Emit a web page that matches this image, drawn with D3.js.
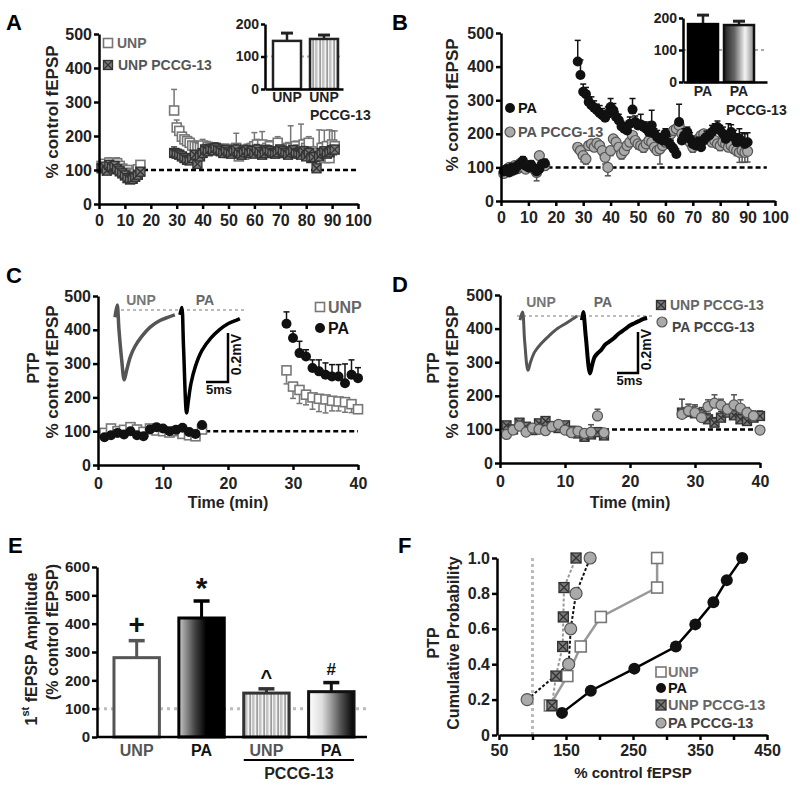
<!DOCTYPE html>
<html>
<head>
<meta charset="utf-8">
<script src="https://cdn.jsdelivr.net/npm/d3@7/dist/d3.min.js"></script>
<style>
html,body{margin:0;padding:0;background:#fff;}
svg{display:block;}
</style>
</head>
<body>
<svg id="fig" width="800" height="785"></svg>
<script>
const FONT = '"Liberation Sans", Arial, Helvetica, sans-serif';

// ================= DATA =================
// Panel A (time in min)
const aBaseStart = 1, aPostStart = 29;
const aUNPbase     = [112,118,108,122,115,110,120,112,104,96,100,92,88,90,102,115];
const aUNPbaseErr  = [10,12,10,14,10,12,16,10,10,8,10,8,8,10,10,12];
const aPCCGbase    = [105,110,98,115,108,112,102,96,90,84,76,72,74,80,86,95];
const aPCCGbaseErr = [10,10,12,10,12,10,10,12,10,10,8,8,8,10,10,12];
const aUNPpost = [275,225,215,198,190,185,180,172,170,168,
                  165,172,160,168,162,165,158,163,160,155,
                  162,150,158,152,165,140,152,145,160,155,
                  165,170,175,160,175,158,165,170,155,150,
                  180,160,155,150,165,165,160,170,160,160,
                  175,165,180,155,150,145,140,165,135,170,
                  135,175,170];
const aUNPerr  = [62,22,16,15,14,15,14,16,15,14,
                  15,18,14,16,14,15,13,15,14,16,
                  14,15,14,15,43,14,15,14,16,15,
                  14,40,15,14,38,14,15,16,14,15,
                  18,15,14,15,16,65,14,15,16,75,
                  15,14,18,15,14,16,78,15,82,14,
                  83,40,45];
const aPCCGpost = [150,148,145,140,135,130,128,135,145,118,
                   140,150,160,155,162,158,165,160,155,150,
                   158,152,148,155,160,150,145,152,158,150,
                   155,148,160,152,145,150,158,155,150,148,
                   152,160,155,150,145,152,158,150,148,145,
                   155,140,150,135,138,105,140,150,155,148,
                   152,158,160];
const aPCCGerr  = [18,15,14,12,14,12,15,14,12,20,
                   14,12,15,12,14,12,15,12,14,12,
                   15,12,14,12,15,12,14,12,15,12,
                   14,12,15,12,14,12,15,12,14,12,
                   15,12,14,12,15,12,14,12,15,12,
                   14,12,15,12,14,20,12,14,12,15,
                   12,14,12];
const aInsetCats = ['UNP', 'UNP PCCG-13'];
const aInsetVals = [148, 154];
const aInsetErr  = [24, 12];

// Panel B
const bBaseStart = 1, bPostStart = 28;
const bPAbase      = [88,95,85,100,92,105,110,120,105,100,108,98,88,95,110,112];
const bPAbaseErr   = [10,10,12,10,12,10,10,12,10,10,12,10,12,10,10,12];
const bPCCGbase    = [82,92,100,90,105,96,112,100,95,105,100,95,85,135,108,105];
const bPCCGbaseErr = [10,10,12,10,12,10,10,12,10,10,12,10,25,12,10,12];
const bPApost = [415,375,325,318,295,285,278,270,262,255,
                 248,260,280,270,250,240,222,215,210,230,
                 272,235,225,228,220,215,205,225,200,190,
                 185,180,200,175,165,155,140,235,180,195,
                 205,185,170,165,175,160,180,190,195,205,
                 215,220,210,200,185,195,205,190,175,185,
                 178,170,175];
const bPAerr  = [63,45,23,20,15,25,20,18,22,20,
                 15,20,25,20,15,18,15,18,15,20,
                 33,18,15,30,15,20,15,45,15,20,
                 15,18,15,18,15,12,15,53,15,20,
                 15,18,15,18,15,12,15,18,15,20,
                 15,18,15,20,18,35,22,20,25,30,
                 25,30,28];
const bPCCGpost = [160,150,135,125,165,170,160,172,165,150,
                   130,100,150,185,175,160,140,150,165,175,
                   195,180,170,165,160,170,180,175,160,150,
                   155,165,175,190,200,210,215,225,200,195,
                   185,175,160,170,185,195,200,190,185,175,
                   180,170,165,175,170,160,165,155,150,145,
                   150,145,148];
const bPCCGerr  = [15,15,18,15,12,15,12,15,12,15,
                   20,25,15,12,15,12,15,12,15,12,
                   15,12,15,12,15,12,15,12,15,12,
                   45,12,15,12,15,12,15,12,15,12,
                   15,12,15,12,15,12,15,12,15,12,
                   15,12,15,12,15,12,15,12,15,30,
                   35,30,32];
const bInsetCats = ['PA', 'PA PCCG-13'];
const bInsetVals = [181, 178];
const bInsetErr  = [28, 12];

// Panel C
const cBaseStart = 1, cPostStart = 29;
const cUNPbase    = [95,108,100,104,112,105,98,108,102,100,96,100,92,88,85,105];
const cUNPbaseErr = [8,8,10,8,8,10,8,8,10,8,8,10,8,8,10,8];
const cPAbase     = [82,88,95,90,100,88,85,105,112,108,100,104,110,98,92,118];
const cPAbaseErr  = [8,10,8,8,10,8,8,10,8,8,10,8,8,10,8,8];
const cPApost  = [418,376,331,321,287,277,267,262,262,242,267,257];
const cPAerr   = [35,20,35,20,24,34,35,35,35,57,44,31];
const cUNPpost = [280,232,222,208,200,196,194,190,188,186,180,165];
const cUNPerr  = [40,35,40,30,35,38,40,30,28,30,25,12];
// EPSP traces: [ms, mV]
const cTraceUNP = [[0,-0.03],[0.5,0.02],[0.9,-0.08],[1.5,-0.2],[2.1,-0.285],[2.6,-0.25],[3.5,-0.19],[4.5,-0.15],[6,-0.11],[8,-0.07],[10,-0.045],[12,-0.03],[13.6,-0.02]];
const cTracePA  = [[0,-0.02],[0.4,0.01],[0.8,-0.15],[1.5,-0.42],[1.9,-0.37],[2.5,-0.3],[3.5,-0.23],[5,-0.165],[7,-0.115],[9,-0.08],[11,-0.055],[13,-0.04],[13.6,-0.035]];

// Panel D
const dBaseStart = 1, dPostStart = 28;
const dUNPPbase    = [112,100,120,108,98,118,125,110,104,112,96,88,78,85,92,82];
const dUNPPbaseErr = [10,12,10,10,12,10,10,12,10,10,8,10,8,10,10,8];
const dPAPbase     = [85,98,110,92,104,100,96,108,115,98,90,95,88,92,140,90];
const dPAPbaseErr  = [8,10,8,10,8,10,8,10,8,10,8,10,8,22,20,8];
const dUNPPpost = [150,152,148,145,130,120,135,150,142,130,125,135,140];
const dUNPPerr  = [40,22,25,20,18,15,18,20,15,15,18,15,15];
const dPAPpost  = [145,155,150,135,168,178,172,160,173,163,150,140,98];
const dPAPerr   = [15,20,18,15,20,25,18,15,30,25,15,15,8];
const dTraceUNP = [[0,-0.02],[0.6,0.02],[1.1,-0.12],[1.9,-0.265],[2.5,-0.225],[3.5,-0.175],[5,-0.135],[7,-0.095],[9,-0.06],[11,-0.035],[12.5,-0.015],[13.6,0]];
const dTracePA  = [[0,-0.02],[0.3,0.02],[0.9,-0.1],[1.9,-0.28],[2.4,-0.24],[3,-0.2],[3.8,-0.18],[4.6,-0.165],[5.5,-0.14],[6.5,-0.125],[7.5,-0.11],[8.5,-0.09],[9.5,-0.075],[10.5,-0.06],[11.5,-0.045],[12.5,-0.035],[13.5,-0.025],[14.5,-0.015],[15.5,-0.01]];

// Panel E
const eCats   = ['UNP', 'PA', 'UNP PCCG-13', 'PA PCCG-13'];
const eLabels = ['UNP', 'PA', 'UNP', 'PA'];
const eVals   = [280, 420, 155, 160];
const eErr    = [60, 60, 15, 32];
const eMarks  = ['+', '*', '^', '#'];
const eTicks  = [0,100,200,300,400,500,600];

// Panel F (x = % control fEPSP, y = cumulative probability)
const fUNPx  = [126,152,172,202,286,286];
const fUNPy  = [0.167,0.333,0.5,0.667,0.833,1.0];
const fPAx   = [144,187,252,314,343,370,390,413];
const fPAy   = [0.125,0.25,0.375,0.5,0.625,0.75,0.875,1.0];
const fUNPPx = [129,135,145,146,147,165];
const fUNPPy = [0.167,0.333,0.5,0.667,0.833,1.0];
const fPAPx  = [92,154,157,165,186];
const fPAPy  = [0.2,0.4,0.6,0.8,1.0];
const fXticks = [50,100,150,200,250,300,350,400,450];
const fXlabels = [50,150,250,350,450];
const fYticks = [0,0.2,0.4,0.6,0.8,1.0];

const tXticks100 = [0,10,20,30,40,50,60,70,80,90,100];
const tXticks40  = [0,10,20,30,40];
const yTicks500  = [0,100,200,300,400,500];
const insetTicks = [0,100,200];

// ================= DRAWING =================
const svg = d3.select('#fig').attr('font-family', FONT);
const defs = svg.append('defs');

function grad(id, stops) {
  const g = defs.append('linearGradient').attr('id', id).attr('x1','0').attr('x2','1').attr('y1','0').attr('y2','0');
  stops.forEach(s => g.append('stop').attr('offset', s[0]).attr('stop-color', s[1]));
}
grad('gPA',  [[0,'#c8c8c8'],[0.35,'#444'],[0.6,'#000'],[1,'#000']]);
grad('gPAP', [[0,'#ffffff'],[0.3,'#dddddd'],[0.7,'#555'],[1,'#000']]);
grad('gInsB',[[0,'#222'],[0.35,'#666'],[0.7,'#f4f4f4'],[1,'#888']]);
const pat = defs.append('pattern').attr('id','stripes').attr('patternUnits','userSpaceOnUse').attr('width',7).attr('height',10);
pat.append('rect').attr('width',7).attr('height',10).attr('fill','#f2f2f2');
pat.append('rect').attr('x',0).attr('width',2.5).attr('height',10).attr('fill','#c4c4c4');
pat.append('rect').attr('x',4.5).attr('width',1.2).attr('height',10).attr('fill','#777');

function styleAx(sel, fs, color) {
  sel.attr('font-family', FONT).attr('font-size', fs).attr('font-weight', 'bold');
  sel.select('.domain').attr('stroke', '#000').attr('stroke-width', 2.5);
  sel.selectAll('.tick line').attr('stroke', '#000').attr('stroke-width', 2.5);
  sel.selectAll('.tick text').attr('fill', color || '#222');
}
function txt(x, y, s, o = {}) {
  const t = svg.append('text').attr('x', x).attr('y', y).text(s)
    .attr('font-size', o.size || 16).attr('font-weight', o.weight || 'bold')
    .attr('fill', o.fill || '#111').attr('text-anchor', o.anchor || 'start')
    .attr('dominant-baseline', 'central');
  if (o.rotate) t.attr('transform', `rotate(-90,${x},${y})`);
  return t;
}
function marker(g, type, x, y, s) {
  if (type === 'sq') {
    g.append('rect').attr('x', x - s/2).attr('y', y - s/2).attr('width', s).attr('height', s)
      .attr('fill', '#fff').attr('stroke', '#777').attr('stroke-width', 1.6);
  } else if (type === 'xsq') {
    g.append('rect').attr('x', x - s/2).attr('y', y - s/2).attr('width', s).attr('height', s)
      .attr('fill', '#7a7a7a').attr('stroke', '#333').attr('stroke-width', 1.3);
    g.append('path').attr('d', `M${x-s/2},${y-s/2}L${x+s/2},${y+s/2}M${x+s/2},${y-s/2}L${x-s/2},${y+s/2}`)
      .attr('stroke', '#333').attr('stroke-width', 1.3);
  } else if (type === 'dot') {
    g.append('circle').attr('cx', x).attr('cy', y).attr('r', s/2).attr('fill', '#111');
  } else if (type === 'gdot') {
    g.append('circle').attr('cx', x).attr('cy', y).attr('r', s/2).attr('fill', '#aaa')
      .attr('stroke', '#555').attr('stroke-width', 1.2);
  }
}
function series(x, y, t0, vals, errs, type, dir, s, ecol) {
  const g = svg.append('g');
  const data = vals.map((v, i) => ({t: t0 + i, v, e: errs[i]}));
  const eg = g.append('g').attr('stroke', ecol).attr('stroke-width', 1.5);
  data.forEach(d => {
    const xx = x(d.t), y1 = y(d.v), y2 = y(d.v + dir * d.e);
    eg.append('line').attr('x1', xx).attr('x2', xx).attr('y1', y1).attr('y2', y2);
    eg.append('line').attr('x1', xx - 3).attr('x2', xx + 3).attr('y1', y2).attr('y2', y2);
  });
  data.forEach(d => marker(g, type, x(d.t), y(d.v), s));
}
function axes(x, y, xt, yt, o) {
  const gx = svg.append('g').attr('transform', `translate(0,${y.range()[0]})`)
    .call(d3.axisBottom(x).tickValues(xt).tickSize(5).tickSizeOuter(0).tickPadding(o.xpad)
      .tickFormat(o.xfmt || d3.format('d')));
  styleAx(gx, o.xfs || 16);
  const gy = svg.append('g').attr('transform', `translate(${x.range()[0]},0)`)
    .call(d3.axisLeft(y).tickValues(yt).tickSize(5).tickSizeOuter(0).tickPadding(2)
      .tickFormat(o.yfmt || d3.format('d')));
  styleAx(gy, o.yfs || 16);
}
function dashed(x, y, t1, t2, v) {
  svg.append('line').attr('x1', x(t1)).attr('x2', x(t2)).attr('y1', y(v)).attr('y2', y(v))
    .attr('stroke', '#000').attr('stroke-width', 2.5).attr('stroke-dasharray', '5,3');
}
function inset(x0, x1, y, cats, vals, errs, centers, w, fills, strokes, fs) {
  const xp = d3.scalePoint().domain(cats).range(centers);
  svg.append('line').attr('x1', x0).attr('x2', x1).attr('y1', y(100)).attr('y2', y(100))
    .attr('stroke', '#aaa').attr('stroke-width', 2).attr('stroke-dasharray', '3,3');
  cats.forEach((c, i) => {
    const cx = xp(c);
    svg.append('line').attr('x1', cx).attr('x2', cx).attr('y1', y(vals[i])).attr('y2', y(vals[i] + errs[i]))
      .attr('stroke', '#222').attr('stroke-width', 2.5);
    svg.append('line').attr('x1', cx - 6).attr('x2', cx + 6).attr('y1', y(vals[i] + errs[i])).attr('y2', y(vals[i] + errs[i]))
      .attr('stroke', '#222').attr('stroke-width', 3);
    svg.append('rect').attr('x', cx - w/2).attr('y', y(vals[i])).attr('width', w).attr('height', y(0) - y(vals[i]))
      .attr('fill', fills[i]).attr('stroke', strokes[i]).attr('stroke-width', 2.5);
  });
  const gx = svg.append('g').attr('transform', `translate(0,${y(0)})`)
    .call(d3.axisBottom(d3.scaleLinear().range([x0, x1])).tickValues([]).tickSizeOuter(0));
  styleAx(gx, fs);
  const gy = svg.append('g').attr('transform', `translate(${x0},0)`)
    .call(d3.axisLeft(y).tickValues(insetTicks).tickSize(4).tickSizeOuter(0).tickPadding(2));
  styleAx(gy, fs);
  return xp;
}
function trace(data, ox, oy, pxPerMs, pxPerMV, color, w) {
  const tx = d3.scaleLinear().domain([0, 1]).range([ox, ox + pxPerMs]);
  const ty = d3.scaleLinear().domain([0, -1]).range([oy, oy + pxPerMV]);
  svg.append('path').attr('d', d3.line().x(d => tx(d[0])).y(d => ty(d[1])).curve(d3.curveCatmullRom)(data))
    .attr('fill', 'none').attr('stroke', color).attr('stroke-width', w).attr('stroke-linejoin', 'round');
}
function scaleBar(cx, cy, pxPerMs, pxPerMV) {
  const sx = d3.scaleLinear().domain([0, 5]).range([cx - 5 * pxPerMs, cx]);
  const sy = d3.scaleLinear().domain([0, 0.2]).range([cy, cy - 0.2 * pxPerMV]);
  svg.append('path').attr('d', `M${sx(0)},${sy(0)}H${sx(5)}V${sy(0.2)}`)
    .attr('fill', 'none').attr('stroke', '#000').attr('stroke-width', 2.5);
  txt((sx(0) + sx(5)) / 2 + 2, cy + 7, '5ms', {size: 13, anchor: 'middle'});
  txt(cx + 8, (sy(0) + sy(0.2)) / 2 - 3, '0.2mV', {size: 14, anchor: 'middle', rotate: true});
}

// ---------- Panel A ----------
{
  const x = d3.scaleLinear().domain([0, 100]).range([99, 358]);
  const y = d3.scaleLinear().domain([0, 500]).range([204, 34]);
  dashed(x, y, 17, 100, 100);
  series(x, y, aBaseStart, aUNPbase, aUNPbaseErr, 'sq', 1, 9, '#777');
  series(x, y, aPostStart, aUNPpost, aUNPerr, 'sq', 1, 9, '#777');
  series(x, y, aBaseStart, aPCCGbase, aPCCGbaseErr, 'xsq', 1, 9, '#444');
  series(x, y, aPostStart, aPCCGpost, aPCCGerr, 'xsq', 1, 9, '#444');
  axes(x, y, tXticks100, yTicks500, {xpad: 6});
  txt(52, 112, '% control fEPSP', {size: 17, anchor: 'middle', rotate: true, fill: '#222'});
  txt(6, 22, 'A', {size: 22, fill: '#000'});
  const lg = svg.append('g');
  marker(lg, 'sq', 108, 43, 9); txt(117, 43, 'UNP', {size: 14, fill: '#666'});
  marker(lg, 'xsq', 108, 65, 9); txt(118, 65, 'UNP PCCG-13', {size: 14, fill: '#555'});
  const iy = d3.scaleLinear().domain([0, 200]).range([89, 24]);
  const xp = inset(265, 343, iy, aInsetCats, aInsetVals, aInsetErr, [287, 324], 28, ['#fff', 'url(#stripes)'], ['#222', '#222'], 14);
  txt(xp('UNP'), 97, 'UNP', {size: 14, anchor: 'middle', fill: '#222'});
  txt(xp('UNP PCCG-13'), 97, 'UNP', {size: 14, anchor: 'middle', fill: '#222'});
  txt(xp('UNP PCCG-13') - 14, 115, 'PCCG-13', {size: 14, fill: '#222'});
}

// ---------- Panel B ----------
{
  const x = d3.scaleLinear().domain([0, 100]).range([501, 775]);
  const y = d3.scaleLinear().domain([0, 500]).range([201, 33]);
  dashed(x, y, 17, 97, 100);
  series(x, y, bBaseStart, bPCCGbase, bPCCGbaseErr, 'gdot', -1, 10, '#555');
  series(x, y, bPostStart, bPCCGpost, bPCCGerr, 'gdot', -1, 10, '#555');
  series(x, y, bBaseStart, bPAbase, bPAbaseErr, 'dot', 1, 10, '#111');
  series(x, y, bPostStart, bPApost, bPAerr, 'dot', 1, 10, '#111');
  axes(x, y, tXticks100, yTicks500, {xpad: 6});
  txt(452, 105, '% control fEPSP', {size: 17, anchor: 'middle', rotate: true, fill: '#222'});
  txt(392, 22, 'B', {size: 22, fill: '#000'});
  const lg = svg.append('g');
  marker(lg, 'dot', 510, 108, 10); txt(518, 108, 'PA', {size: 14.5, fill: '#111'});
  marker(lg, 'gdot', 510, 132, 10); txt(518, 132, 'PA PCCG-13', {size: 14.5, fill: '#555'});
  const iy = d3.scaleLinear().domain([0, 200]).range([82, 18]);
  const xp = inset(683, 767, iy, bInsetCats, bInsetVals, bInsetErr, [703, 739], 30, ['#000', 'url(#gInsB)'], ['#000', '#111'], 14);
  txt(xp('PA'), 91, 'PA', {size: 14, anchor: 'middle', fill: '#222'});
  txt(xp('PA PCCG-13'), 91, 'PA', {size: 14, anchor: 'middle', fill: '#222'});
  txt(xp('PA PCCG-13') - 13, 110, 'PCCG-13', {size: 14, fill: '#222'});
}

// ---------- Panel C ----------
{
  const x = d3.scaleLinear().domain([0, 40]).range([98, 358]);
  const y = d3.scaleLinear().domain([0, 500]).range([465, 296]);
  dashed(x, y, 16.5, 40, 100);
  series(x, y, cBaseStart, cUNPbase, cUNPbaseErr, 'sq', -1, 9, '#777');
  series(x, y, cPostStart, cUNPpost, cUNPerr, 'sq', -1, 9, '#777');
  series(x, y, cBaseStart, cPAbase, cPAbaseErr, 'dot', 1, 10, '#111');
  series(x, y, cPostStart, cPApost, cPAerr, 'dot', 1, 10, '#111');
  axes(x, y, tXticks40, yTicks500, {xpad: 8});
  txt(228, 502, 'Time (min)', {size: 16, anchor: 'middle', fill: '#222'});
  txt(33, 368, 'PTP', {size: 16, anchor: 'middle', rotate: true, fill: '#222'});
  txt(52, 372, '% control fEPSP', {size: 17, anchor: 'middle', rotate: true, fill: '#222'});
  txt(6, 275, 'C', {size: 22, fill: '#000'});
  svg.append('line').attr('x1', 115).attr('x2', 245).attr('y1', 310).attr('y2', 310)
    .attr('stroke', '#bbb').attr('stroke-width', 2).attr('stroke-dasharray', '3,3');
  trace(cTraceUNP, 115, 310, 4.4, 245, '#555', 3.5);
  trace(cTracePA, 180, 310, 4.4, 245, '#000', 3.5);
  txt(141, 300, 'UNP', {size: 14, anchor: 'middle', fill: '#777'});
  txt(205, 300, 'PA', {size: 14, anchor: 'middle', fill: '#666'});
  scaleBar(228, 382, 4.4, 245);
  const lg = svg.append('g');
  marker(lg, 'sq', 320, 307, 9); txt(328, 307, 'UNP', {size: 16, fill: '#666'});
  marker(lg, 'dot', 320, 328, 10); txt(328, 328, 'PA', {size: 16, fill: '#111'});
}

// ---------- Panel D ----------
{
  const x = d3.scaleLinear().domain([0, 40]).range([500, 760]);
  const y = d3.scaleLinear().domain([0, 500]).range([463, 295]);
  dashed(x, y, 16, 39, 100);
  series(x, y, dBaseStart, dUNPPbase, dUNPPbaseErr, 'xsq', 1, 9, '#444');
  series(x, y, dPostStart, dUNPPpost, dUNPPerr, 'xsq', 1, 9, '#444');
  series(x, y, dBaseStart, dPAPbase, dPAPbaseErr, 'gdot', 1, 10, '#555');
  series(x, y, dPostStart, dPAPpost, dPAPerr, 'gdot', 1, 10, '#555');
  axes(x, y, tXticks40, yTicks500, {xpad: 8});
  txt(630, 502, 'Time (min)', {size: 16, anchor: 'middle', fill: '#222'});
  txt(433, 368, 'PTP', {size: 16, anchor: 'middle', rotate: true, fill: '#222'});
  txt(452, 372, '% control fEPSP', {size: 17, anchor: 'middle', rotate: true, fill: '#222'});
  txt(392, 284, 'D', {size: 22, fill: '#000'});
  svg.append('line').attr('x1', 517).attr('x2', 653).attr('y1', 316).attr('y2', 316)
    .attr('stroke', '#bbb').attr('stroke-width', 2).attr('stroke-dasharray', '3,3');
  trace(dTraceUNP, 520, 316, 4.2, 205, '#555', 3);
  trace(dTracePA, 582, 316, 4.2, 205, '#000', 4);
  txt(541, 302, 'UNP', {size: 14, anchor: 'middle', fill: '#777'});
  txt(603, 302, 'PA', {size: 14, anchor: 'middle', fill: '#666'});
  scaleBar(638, 373, 4.2, 205);
  const lg = svg.append('g');
  marker(lg, 'xsq', 661, 305, 9); txt(670, 305, 'UNP PCCG-13', {size: 14, fill: '#666'});
  marker(lg, 'gdot', 662, 322, 10); txt(672, 327, 'PA PCCG-13', {size: 14, fill: '#444'});
}

// ---------- Panel E ----------
{
  const x = d3.scaleBand().domain(eCats).range([101, 367]).paddingInner(0.3).paddingOuter(0.2);
  const y = d3.scaleLinear().domain([0, 600]).range([737, 567]);
  const fills = ['#fff', 'url(#gPA)', 'url(#stripes)', 'url(#gPAP)'];
  const strokes = ['#555', '#000', '#333', '#111'];
  svg.append('line').attr('x1', 97).attr('x2', 367).attr('y1', y(100)).attr('y2', y(100))
    .attr('stroke', '#bbb').attr('stroke-width', 3).attr('stroke-dasharray', '3,4');
  eCats.forEach((c, i) => {
    const cx = x(c) + x.bandwidth() / 2;
    const top = y(eVals[i] + eErr[i]);
    svg.append('line').attr('x1', cx).attr('x2', cx).attr('y1', y(eVals[i])).attr('y2', top)
      .attr('stroke', strokes[i]).attr('stroke-width', 3);
    svg.append('line').attr('x1', cx - 8).attr('x2', cx + 8).attr('y1', top).attr('y2', top)
      .attr('stroke', strokes[i]).attr('stroke-width', 3.5);
    svg.append('rect').attr('x', x(c)).attr('y', y(eVals[i])).attr('width', x.bandwidth())
      .attr('height', y(0) - y(eVals[i])).attr('fill', fills[i]).attr('stroke', strokes[i]).attr('stroke-width', 3);
    const msz = [28, 30, 20, 17][i];
    const moff = [16, 14, 12, 13][i];
    txt(cx, top - moff, eMarks[i], {size: msz, anchor: 'middle', fill: '#111'});
    txt(cx, 750, eLabels[i], {size: 16, anchor: 'middle', fill: i % 2 === 0 ? '#555' : '#111'});
  });
  svg.append('line').attr('x1', 97).attr('x2', 367).attr('y1', y(0)).attr('y2', y(0))
    .attr('stroke', '#000').attr('stroke-width', 2.5);
  const gy = svg.append('g').attr('transform', 'translate(97,0)')
    .call(d3.axisLeft(y).tickValues(eTicks).tickSize(5).tickSizeOuter(0).tickPadding(2).tickFormat(d3.format('d')));
  styleAx(gy, 15);
  const x1 = x('UNP PCCG-13'), x2 = x('PA PCCG-13') + x.bandwidth();
  svg.append('line').attr('x1', x1).attr('x2', x2).attr('y1', 760).attr('y2', 760)
    .attr('stroke', '#000').attr('stroke-width', 2);
  txt((x1 + x2) / 2, 773, 'PCCG-13', {size: 16, anchor: 'middle', fill: '#222'});
  const t = txt(31, 649, '', {size: 16, anchor: 'middle', rotate: true, fill: '#222'});
  t.append('tspan').text('1');
  t.append('tspan').attr('font-size', 11).attr('dy', -6).text('st');
  t.append('tspan').attr('dy', 6).text(' fEPSP Amplitude');
  txt(52, 632, '(% control fEPSP)', {size: 16, anchor: 'middle', rotate: true, fill: '#222'});
  txt(8, 545, 'E', {size: 22, fill: '#000'});
}

// ---------- Panel F ----------
{
  const x = d3.scaleLinear().domain([50, 450]).range([499, 767]);
  const y = d3.scaleLinear().domain([0, 1]).range([735, 558]);
  svg.append('line').attr('x1', x(100)).attr('x2', x(100)).attr('y1', y(0)).attr('y2', y(1))
    .attr('stroke', '#bbb').attr('stroke-width', 3).attr('stroke-dasharray', '3,3');
  const gx = svg.append('g').attr('transform', `translate(0,${y(0)})`)
    .call(d3.axisBottom(x).tickValues(fXticks).tickSize(5).tickSizeOuter(0).tickPadding(5)
      .tickFormat(d => fXlabels.includes(d) ? d : ''));
  styleAx(gx, 16);
  const gy = svg.append('g').attr('transform', `translate(497,0)`)
    .call(d3.axisLeft(y).tickValues(fYticks).tickSize(5).tickSizeOuter(0).tickPadding(2)
      .tickFormat(d => d === 0 ? '0' : d3.format('.1f')(d)));
  styleAx(gy, 16);
  const line = d3.line().x(d => x(d[0])).y(d => y(d[1]));
  const sets = [
    {xs: fUNPx, ys: fUNPy, type: 'sq', col: '#999', w: 2.5, dash: null, s: 11},
    {xs: fPAx, ys: fPAy, type: 'dot', col: '#000', w: 2.5, dash: null, s: 12},
    {xs: fUNPPx, ys: fUNPPy, type: 'xsq', col: '#999', w: 2, dash: '3,2', s: 10},
    {xs: fPAPx, ys: fPAPy, type: 'gdot', col: '#111', w: 2, dash: '3,2', s: 12}
  ];
  sets.forEach(st => {
    const pts = st.xs.map((v, i) => [v, st.ys[i]]);
    svg.append('path').attr('d', line(pts)).attr('fill', 'none').attr('stroke', st.col)
      .attr('stroke-width', st.w).attr('stroke-dasharray', st.dash);
  });
  sets.forEach(st => {
    const g = svg.append('g');
    st.xs.forEach((v, i) => marker(g, st.type, x(v), y(st.ys[i]), st.s));
  });
  const lg = svg.append('g');
  const names = ['UNP', 'PA', 'UNP PCCG-13', 'PA PCCG-13'];
  const cols = ['#777', '#111', '#666', '#444'];
  [672, 688, 705, 723].forEach((yy, i) => {
    marker(lg, sets[i].type, 661, yy, 10);
    txt(668, yy, names[i], {size: 14.5, fill: cols[i]});
  });
  txt(633, 772, '% control fEPSP', {size: 15, anchor: 'middle', fill: '#222'});
  txt(433, 643, 'PTP', {size: 16, anchor: 'middle', rotate: true, fill: '#222'});
  txt(453, 643, 'Cumulative Probability', {size: 16, anchor: 'middle', rotate: true, fill: '#222'});
  txt(398, 545, 'F', {size: 22, fill: '#000'});
}
</script>
</body>
</html>
